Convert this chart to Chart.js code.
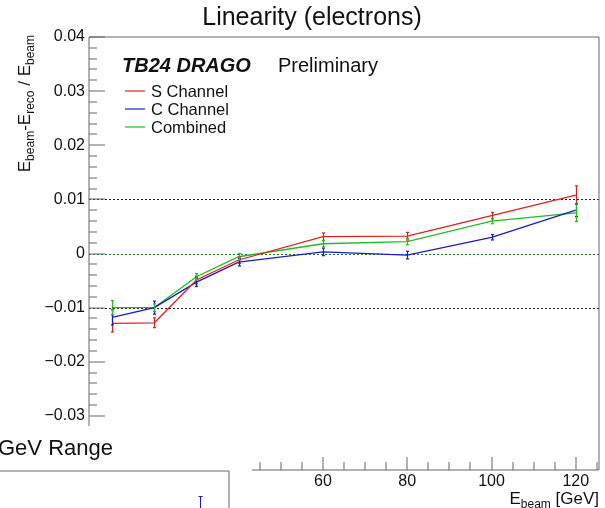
<!DOCTYPE html>
<html>
<head>
<meta charset="utf-8">
<script src="https://cdn.jsdelivr.net/npm/chart.js@4/dist/chart.umd.min.js"></script>
<style>
  html, body { margin: 0; padding: 0; background: #fff; }
  #wrap { width: 605px; height: 508px; position: relative; }
</style>
</head>
<body>
<div id="wrap"><canvas id="c"></canvas></div>
<script>
// ── DATA ──────────────────────────────────────────────────────
const energies  = [10, 20, 30, 40, 60, 80, 100, 120];
const sChannel  = [-0.0129, -0.0128, -0.0049, -0.0012, 0.0031, 0.0032, 0.0070, 0.0108];
const cChannel  = [-0.0118, -0.0100, -0.0053, -0.0016, 0.0003, -0.0003, 0.0030, 0.0080];
const combined  = [-0.0100, -0.0100, -0.0043, -0.0006, 0.0018, 0.0022, 0.0060, 0.0075];
const sErr      = [0.0016, 0.0009, 0.0007, 0.0006, 0.0007, 0.0007, 0.0006, 0.0017];
const cErr      = [0.0014, 0.0012, 0.0008, 0.0007, 0.0007, 0.0007, 0.0005, 0.0012];
const combErr   = [0.0013, 0.0007, 0.0006, 0.0006, 0.0006, 0.0006, 0.0005, 0.0016];

const xMajorTicks = [20, 40, 60, 80, 100, 120];
const yMajorTicks = [-0.04, -0.03, -0.02, -0.01, 0, 0.01, 0.02, 0.03, 0.04];
const refLines    = [0.01, 0, -0.01];

const RED = '#e02020', BLUE = '#1a1acc', GREEN = '#22bb22';
const AXIS = '#666';
const FONT = '"Liberation Sans", Arial, sans-serif';

const series = [
  { label: 'S Channel', vals: sChannel, err: sErr,    color: RED },
  { label: 'C Channel', vals: cChannel, err: cErr,    color: BLUE },
  { label: 'Combined',  vals: combined, err: combErr, color: GREEN },
];

// ── ROOT-STYLE DECORATION ─────────────────────────────────────
function line(ctx, x1, y1, x2, y2) {
  ctx.beginPath(); ctx.moveTo(x1, y1); ctx.lineTo(x2, y2); ctx.stroke();
}

function yLabel(v) {
  if (Math.abs(v) < 1e-9) return '0';
  return (v < 0 ? '\u2212' : '') + Math.abs(v).toFixed(2);
}

// draws main text + subscripts left to right, returns width
function richText(ctx, parts, x, y, measureOnly) {
  let w = 0;
  parts.forEach(p => {
    ctx.font = (p.sub ? '12px ' : '17px ') + FONT;
    if (!measureOnly) ctx.fillText(p.t, x + w, y + (p.sub ? 4 : 0));
    w += ctx.measureText(p.t).width;
  });
  return w;
}

const rootPlugin = {
  id: 'rootPlugin',
  beforeDatasetsDraw(chart) {
    const { ctx, chartArea: a, scales: { y } } = chart;
    ctx.save();
    ctx.lineWidth = 1;
    ctx.setLineDash([2, 2]);
    refLines.forEach(v => {
      ctx.strokeStyle = v === 0 ? '#1f7a1f' : '#222';
      const py = Math.round(y.getPixelForValue(v)) + 0.5;
      line(ctx, a.left, py, a.right, py);
    });
    ctx.restore();
  },
  afterDatasetsDraw(chart) {
    const { ctx, scales: { x, y } } = chart;
    ctx.save();
    ctx.lineWidth = 1.2;
    series.forEach(s => {
      ctx.strokeStyle = s.color;
      energies.forEach((e, i) => {
        const px = Math.round(x.getPixelForValue(e)) + 0.5;
        const y1 = y.getPixelForValue(s.vals[i] + s.err[i]);
        const y2 = y.getPixelForValue(s.vals[i] - s.err[i]);
        line(ctx, px, y1, px, y2);
        line(ctx, px - 1.5, y1, px + 1.5, y1);
        line(ctx, px - 1.5, y2, px + 1.5, y2);
      });
    });
    ctx.restore();
  },
  afterDraw(chart) {
    const { ctx, chartArea: a, scales: { x, y } } = chart;
    ctx.save();
    ctx.strokeStyle = AXIS;
    ctx.lineWidth = 1;

    // frame
    line(ctx, a.left, a.top, a.right, a.top);
    line(ctx, a.right, a.top, a.right, a.bottom);
    line(ctx, a.left, a.top, a.left, a.bottom);
    line(ctx, a.left, a.bottom, a.right, a.bottom);

    // y ticks
    for (let k = -20; k <= 20; k++) {
      const v = k * 0.002;
      const py = Math.round(y.getPixelForValue(v));
      const major = k % 5 === 0;
      line(ctx, a.left, py, a.left + (major ? 16 : 8), py);
    }
    // x ticks
    for (let e = 5; e <= 125; e += 5) {
      const px = Math.round(x.getPixelForValue(e));
      const major = e % 20 === 0;
      line(ctx, px, a.bottom, px, a.bottom - (major ? 13 : 8));
    }

    // tick labels
    ctx.fillStyle = '#111';
    ctx.font = '16px ' + FONT;
    ctx.textAlign = 'right';
    ctx.textBaseline = 'middle';
    yMajorTicks.forEach(v => ctx.fillText(yLabel(v), a.left - 4, y.getPixelForValue(v)));
    ctx.textAlign = 'center';
    ctx.textBaseline = 'alphabetic';
    xMajorTicks.forEach(v => ctx.fillText(String(v), x.getPixelForValue(v), a.bottom + 16));

    // title
    ctx.font = '25px ' + FONT;
    ctx.fillText('Linearity (electrons)', 312, 25);

    // x axis title (right aligned)
    ctx.textAlign = 'left';
    const xt = [{ t: 'E' }, { t: 'beam', sub: true }, { t: ' [GeV]' }];
    const xw = richText(ctx, xt, 0, 0, true);
    richText(ctx, xt, a.right - xw, 504);

    // y axis title (rotated, top aligned)
    const yt = [{ t: 'E' }, { t: 'beam', sub: true }, { t: '-E' }, { t: 'reco', sub: true },
                { t: ' / E' }, { t: 'beam', sub: true }];
    const yw = richText(ctx, yt, 0, 0, true);
    ctx.save();
    ctx.translate(29.5, 35);
    ctx.rotate(-Math.PI / 2);
    richText(ctx, yt, -yw, 0);
    ctx.restore();

    // labels + legend
    ctx.font = 'italic bold 20px ' + FONT;
    ctx.fillText('TB24 DRAGO', 122, 72);
    ctx.font = '20px ' + FONT;
    ctx.fillText('Preliminary', 278, 72);
    ctx.font = '16.5px ' + FONT;
    ctx.textBaseline = 'middle';
    series.forEach((s, i) => {
      const ly = 91 + i * 18;
      ctx.strokeStyle = s.color;
      ctx.lineWidth = 1.2;
      line(ctx, 125, ly, 145, ly);
      ctx.fillText(s.label, 151, ly + 1);
    });

    // overlapping neighbour pad (bottom-left)
    ctx.fillStyle = '#fff';
    ctx.fillRect(0, 426, 252, 82);
    ctx.fillStyle = '#111';
    ctx.textBaseline = 'alphabetic';
    ctx.font = '22px ' + FONT;
    ctx.fillText('GeV Range', -2, 455);
    ctx.strokeStyle = AXIS;
    ctx.lineWidth = 1;
    ctx.beginPath();
    ctx.moveTo(0, 471); ctx.lineTo(229, 471); ctx.lineTo(229, 508);
    ctx.stroke();
    ctx.strokeStyle = BLUE;
    line(ctx, 200.5, 496, 200.5, 508);
    line(ctx, 198.5, 496.5, 202.5, 496.5);

    ctx.restore();
  },
};

// ── CHART ─────────────────────────────────────────────────────
new Chart(document.getElementById('c').getContext('2d'), {
  type: 'line',
  data: {
    datasets: series.map(s => ({
      label: s.label,
      data: energies.map((e, i) => ({ x: e, y: s.vals[i] })),
      borderColor: s.color,
      backgroundColor: s.color,
      borderWidth: 1.3,
      pointRadius: 0,
      tension: 0,
      fill: false,
    })),
  },
  options: {
    responsive: true, maintainAspectRatio: false,
    animation: false,
    layout: { padding: { left: 89, right: 6, top: 37, bottom: 38 } },
    plugins: { legend: { display: false }, tooltip: { enabled: false } },
    scales: {
      x: { type: 'linear', min: 4.5, max: 125.5, display: false },
      y: { type: 'linear', min: -0.04, max: 0.04, display: false },
    },
  },
  plugins: [rootPlugin],
});
</script>
</body>
</html>
